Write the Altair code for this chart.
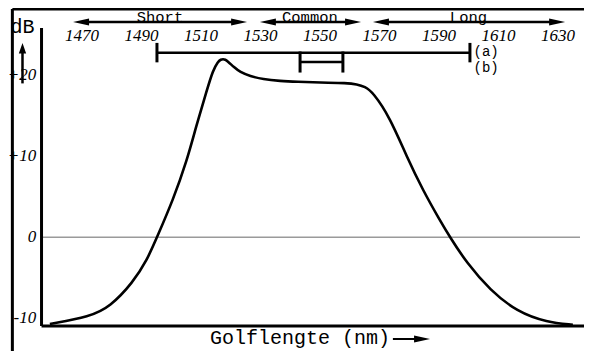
import altair as alt
import pandas as pd

# ---------------- data ----------------
curve_nm = [1459.2, 1472.7, 1479.4, 1487.1, 1491.9, 1495.2, 1500.6, 1505.3, 1508.3,
            1512.0, 1514.0, 1515.7, 1516.7, 1517.4, 1518.1, 1519.1, 1521.1, 1523.1,
            1526.5, 1530.8, 1536.6, 1542.3, 1550.0, 1559.1, 1562.4, 1565.1, 1567.8,
            1573.5, 1579.2, 1584.6, 1590.3, 1593.7, 1599.4, 1607.1, 1616.2, 1626.3,
            1635.0]
curve_db = [-10.7, -9.8, -8.6, -5.6, -2.8, 0.0, 4.6, 9.5, 13.6,
            18.2, 20.6, 21.7, 21.95, 22.0, 21.95, 21.7, 21.0, 20.4,
            19.9, 19.5, 19.3, 19.2, 19.1, 19.05, 18.9, 18.6, 17.9,
            14.8, 9.9, 5.8, 2.1, 0.0, -3.2, -6.5, -9.2, -10.5,
            -10.8]

tick_nm = [1470, 1490, 1510, 1530, 1550, 1570, 1590, 1610, 1630]
y_ticks = [20, 10, 0, -10]
y_labels = ["+20", "+10", "0", "-10"]

bands = ["Short", "Common", "Long"]
band_start = [1467.0, 1529.8, 1567.8]
band_end = [1525.5, 1563.8, 1632.4]
band_mid = [1496.2, 1546.6, 1599.9]

ranges = ["(a)", "(b)"]
range_start = [1495.2, 1543.3]
range_end = [1600.4, 1557.7]

x_title = "Golflengte (nm)"
y_title = "dB"

# ---------------- layout (in data units of the scales) ----------------
W, H = 576, 343
X_DOMAIN = [1445.13, 1638.74]
Y_DOMAIN = [-14.04, 28.31]
xs = alt.Scale(domain=X_DOMAIN, nice=False, zero=False)
ys = alt.Scale(domain=Y_DOMAIN, nice=False, zero=False)

SERIF = "'Liberation Serif', 'Times New Roman', Times, serif"
MONO = "'Liberation Mono', 'Courier New', Courier, monospace"

FRAME_X, FRAME_TOP, FRAME_BOTTOM = 1446.6, 28.2, -14.1
AXIS_X, AXIS_TOP, AXIS_BOTTOM = 1456.4, 25.84, -10.96
AXIS_END = 1641.0
ZERO_END = 1637.4
TICK_LABEL_DB = 24.23
YLABEL_X = 1454.6
BAND_DB = 26.58
RANGE_DB = [22.8, 21.64]
RANGE_HALF = [1.2, 1.3]
RANGE_LABEL_X = 1601.6
RANGE_LABEL_DB = [22.9, 20.96]
DB_X, DB_LABEL_Y, DB_ARROW_TIP, DB_ARROW_END = 1450.0, 25.2, 24.0, 19.0
XT_X, XT_Y = 1513.0, -13.2
XT_ARROW_Y, XT_ARROW_START, XT_ARROW_TIP = -12.56, 1574.5, 1587.0

X = alt.X("x:Q", scale=xs, axis=None)
Y = alt.Y("y:Q", scale=ys, axis=None)

RIGHT_HEAD = "M0,0L-2,-0.44L-2,0.44Z"
LEFT_HEAD = "M0,0L2,-0.44L2,0.44Z"
UP_HEAD = "M0,0L-0.7,2L0.7,2Z"


def segs(x1, y1, x2, y2, width=2.5, color="black"):
    df = pd.DataFrame({"x": x1, "y": y1, "x2": x2, "y2": y2})
    return alt.Chart(df).mark_rule(strokeWidth=width, color=color, strokeCap="butt").encode(
        x=X, y=Y, x2="x2:Q", y2="y2:Q")


def heads(xv, yv, shape, size=256):
    df = pd.DataFrame({"x": xv, "y": yv})
    return alt.Chart(df).mark_point(shape=shape, filled=True, size=size, color="black",
                                    opacity=1, strokeWidth=0).encode(x=X, y=Y)


def texts(xv, yv, labels, **kw):
    df = pd.DataFrame({"x": xv, "y": yv, "t": labels})
    return alt.Chart(df).mark_text(color="black", **kw).encode(x=X, y=Y, text="t:N")


layers = []
# outer frame
layers.append(segs([FRAME_X, FRAME_X], [FRAME_TOP, FRAME_TOP],
                   [X_DOMAIN[1] + 5, FRAME_X], [FRAME_TOP, FRAME_BOTTOM], width=3))
# zero line
layers.append(segs([AXIS_X], [0], [ZERO_END], [0], width=1.5, color="#9a9a9a"))
# inner axes
layers.append(segs([AXIS_X, AXIS_X], [AXIS_TOP, AXIS_BOTTOM],
                   [AXIS_X, AXIS_END], [AXIS_BOTTOM, AXIS_BOTTOM], width=3))
# curve
curve_df = pd.DataFrame({"x": curve_nm, "y": curve_db})
layers.append(alt.Chart(curve_df).mark_line(color="black", strokeWidth=2.6,
                                            interpolate="basis").encode(x=X, y=Y))
# top wavelength tick labels
layers.append(texts(tick_nm, [TICK_LABEL_DB] * len(tick_nm), [str(t) for t in tick_nm],
                    font=SERIF, fontStyle="italic", fontSize=17,
                    align="center", baseline="alphabetic"))
# y labels
layers.append(texts([YLABEL_X] * len(y_ticks), y_ticks, y_labels,
                    font=SERIF, fontStyle="italic", fontSize=17,
                    align="right", baseline="middle"))
# band labels and arrows
layers.append(texts(band_mid, [BAND_DB] * 3, bands, font=MONO, fontSize=15.5,
                    align="center", baseline="alphabetic"))
off = 5.0
layers.append(segs([s + off for s in band_start], [BAND_DB] * 3,
                   [e - off for e in band_end], [BAND_DB] * 3, width=2.5))
layers.append(heads(band_start, [BAND_DB] * 3, LEFT_HEAD))
layers.append(heads(band_end, [BAND_DB] * 3, RIGHT_HEAD))
# range bars (a), (b)
layers.append(segs(range_start, RANGE_DB, range_end, RANGE_DB, width=2.5))
layers.append(segs(range_start + range_end,
                   [RANGE_DB[i] + RANGE_HALF[i] for i in (0, 1, 0, 1)],
                   range_start + range_end,
                   [RANGE_DB[i] - RANGE_HALF[i] for i in (0, 1, 0, 1)], width=3))
layers.append(texts([RANGE_LABEL_X] * 2, RANGE_LABEL_DB, ranges, font=MONO,
                    fontSize=14, align="left", baseline="middle"))
# dB label with arrow
layers.append(texts([DB_X], [DB_LABEL_Y], [y_title], font=MONO, fontSize=20,
                    align="center", baseline="alphabetic"))
layers.append(segs([DB_X], [DB_ARROW_END], [DB_X], [DB_ARROW_TIP - 0.8], width=2.5))
layers.append(heads([DB_X], [DB_ARROW_TIP], UP_HEAD, size=110))
# x title with arrow
layers.append(texts([XT_X], [XT_Y], [x_title], font=MONO, fontSize=20,
                    align="left", baseline="alphabetic"))
layers.append(segs([XT_ARROW_START], [XT_ARROW_Y], [XT_ARROW_TIP - 3], [XT_ARROW_Y], width=2))
layers.append(heads([XT_ARROW_TIP], [XT_ARROW_Y], RIGHT_HEAD, size=256))

chart = alt.layer(*layers).properties(
    width=W, height=H, padding=0,
    autosize=alt.AutoSizeParams(type="none"),
    background="white",
).configure_view(stroke=None)

chart.save("out.html", embed_options={"renderer": "svg", "actions": False})
